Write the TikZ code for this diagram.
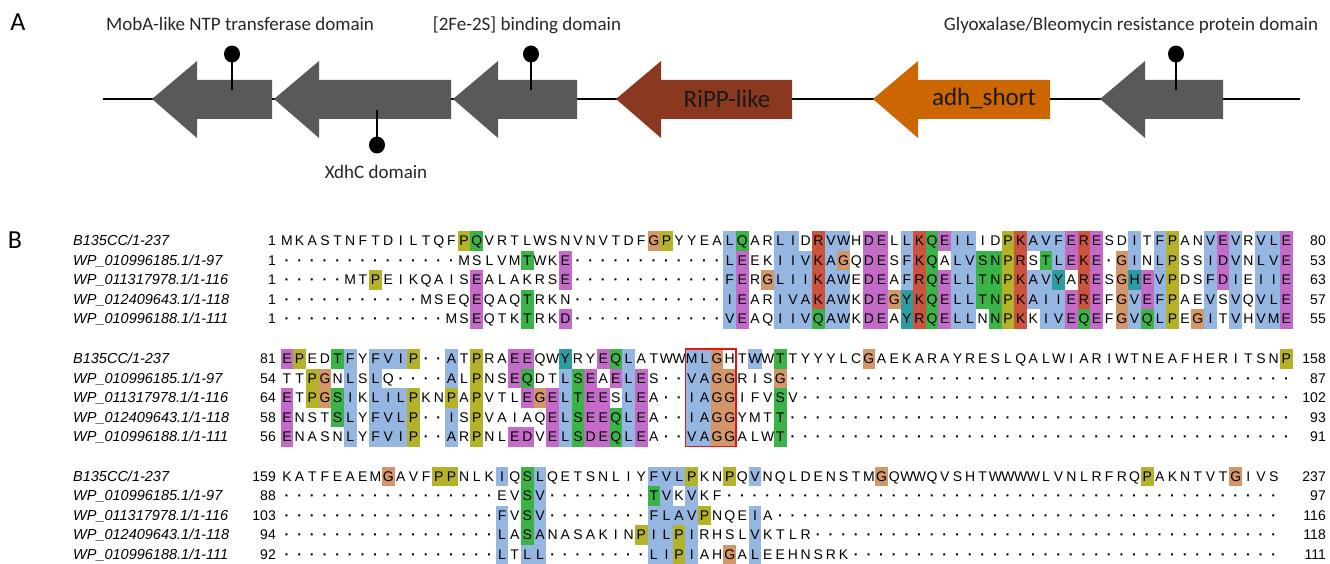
\documentclass[tikz,border=0pt]{standalone}
\usepackage{fontspec}
\setmainfont{Liberation Sans}
\newfontfamily\calib{Carlito}
\newfontfamily\arialf{Liberation Sans}
\usetikzlibrary{shapes.geometric}

\definecolor{clb}{RGB}{150,182,226}
\definecolor{clr}{RGB}{204,84,62}
\definecolor{clg}{RGB}{58,180,70}
\definecolor{clm}{RGB}{196,106,200}
\definecolor{clo}{RGB}{210,150,104}
\definecolor{cly}{RGB}{180,178,40}
\definecolor{clc}{RGB}{44,156,160}
\definecolor{genegray}{RGB}{89,89,89}
\definecolor{rippc}{RGB}{138,56,32}
\definecolor{adhc}{RGB}{204,102,0}
\definecolor{boxred}{RGB}{230,20,20}

\newcommand\resfont{\arialf\fontsize{14}{16}\selectfont}
\newcommand\lblfont{\arialf\itshape\fontsize{14.5}{16}\selectfont}
\newcommand\numfont{\arialf\fontsize{14}{16}\selectfont}
\newcommand\gapdot{{\bfseries\char"00B7\relax}}

\tikzset{
  res/.style={font=\resfont, inner sep=0pt, outer sep=0pt, minimum width=12.65pt, minimum height=19.5pt, text height=10pt, text depth=0pt},
  seqlbl/.style={font=\lblfont, inner sep=0pt, anchor=west, text height=10pt, text depth=0pt},
  numr/.style={font=\numfont, inner sep=0pt, anchor=east, text height=10pt, text depth=0pt},
  backbone/.style={line width=1.5pt, black},
  stem/.style={line width=1.5pt, black},
  ball/.style={ellipse, fill=black, inner sep=0pt, minimum width=16pt, minimum height=17pt},
  domlbl/.style={font=\calib\fontsize{19}{22}\selectfont, inner sep=0pt, anchor=base, text=black!85},
  genetxt/.style={font=\calib\fontsize{25}{28}\selectfont, inner sep=0pt, text=black!90},
  panel/.style={font=\calib\fontsize{26}{30}\selectfont, inner sep=0pt},
  hlbox/.style={draw=boxred, line width=1.6pt},
}

\newcommand\AlnCell[3]{%
  \pgfmathsetmacro\AlnX{287+(#1-1)*12.65}%
  \if\AlnRes-\def\AlnTxt{\gapdot}\else\let\AlnTxt\AlnRes\fi
  \if\AlnCol.%
    \node[res] (#3c#1) at (\AlnX,#2) {\AlnTxt};%
  \else
    \edef\AlnFill{cl\AlnCol}%
    \node[res,fill=\AlnFill] (#3c#1) at (\AlnX,#2) {\AlnTxt};%
  \fi
}

\ExplSyntaxOn
\str_new:N \l__aln_res_str
\str_new:N \l__aln_col_str
\cs_new:Npn \Gp #1 { \prg_replicate:nn {#1} {-} }
\cs_new:Npn \Nc #1 { \prg_replicate:nn {#1} {.} }
\cs_new_protected:Npn \__aln_row:nnnn #1#2#3#4
 {
  \str_set:Nx \l__aln_res_str {#3}
  \str_remove_all:Nn \l__aln_res_str {~}
  \str_set:Nx \l__aln_col_str {#4}
  \str_remove_all:Nn \l__aln_col_str {~}
  \int_step_inline:nn { \str_count:N \l__aln_res_str }
   {
    \tl_set:Nx \AlnRes { \str_item:Nn \l__aln_res_str {##1} }
    \tl_set:Nx \AlnCol { \str_item:Nn \l__aln_col_str {##1} }
    \tl_if_empty:NT \AlnCol { \tl_set:Nn \AlnCol {.} }
    \AlnCell {##1} {#1} {#2}
   }
 }
\NewDocumentCommand \AlnRow { m m m m } { \__aln_row:nnnn {#1} {#2} {#3} {#4} }
\ExplSyntaxOff

\newcommand\gene[4]{%
  \coordinate (#1tip) at (#2,99);
  \coordinate (#1end) at (#3,99);
  \fill[#4] (#1tip) -- (#2+45,61) -- (#2+45,80) -- (#3,80) -- (#3,119) -- (#2+45,119) -- (#2+45,138) -- cycle;
}

\begin{document}
\begin{tikzpicture}[x=1pt,y=-1pt]
\useasboundingbox (0,0) rectangle (1330,564);

% ---------------- Panel A ----------------
\node[panel] (pA) at (18,22) {A};
\coordinate (bbL) at (103,99);
\coordinate (bbR) at (1300,99);
\draw[backbone] (bbL) -- (bbR);

\gene{g1}{152}{272}{genegray}
\gene{g2}{274}{451}{genegray}
\gene{g3}{453}{577}{genegray}
\gene{g4}{616}{792}{rippc}
\gene{g5}{873}{1050}{adhc}
\gene{g6}{1100}{1223}{genegray}

\node[genetxt] (ripptxt) at (727,99) {RiPP-like};
\node[genetxt] (adhtxt) at (984,99) {adh\_short};

% lollipops
\node[ball] (l1) at (232,54) {};
\coordinate (s1) at (232,90);
\draw[stem] (s1) -- (l1.center);
\node[ball] (l2) at (377,145) {};
\coordinate (s2) at (377,110);
\draw[stem] (s2) -- (l2.center);
\node[ball] (l3) at (531,54) {};
\coordinate (s3) at (531,90);
\draw[stem] (s3) -- (l3.center);
\node[ball] (l6) at (1176,54) {};
\coordinate (s6) at (1176,90);
\draw[stem] (s6) -- (l6.center);

\node[domlbl] (d1) at (240,31) {MobA-like NTP transferase domain};
\node[domlbl] (d3) at (527,31) {[2Fe-2S] binding domain};
\node[domlbl] (d6) at (1131,31) {Glyoxalase/Bleomycin resistance protein domain};
\node[domlbl] (d2) at (376,179) {XdhC domain};

% ---------------- Panel B ----------------
\node[panel] (pB) at (15,240) {B};

% Block 1
\AlnRow{240.75}{b1r1}{MKASTNFTDI LTQFPQVRTL WSNVNVTDFG PYYEALQARL IDRVWHDELL KQEILIDPKA VFERESDITF PANVEVRVLE}
 {.......... ....yg.... .........o y....bg..b b.rbb.mm.b rgmbb..yrb bbmrm..b.b y..bmb.bbm}
\AlnRow{260.25}{b1r2}{---------- ----MSLVMT WKE------- -----LEEKI IVKAGQDESF KQALVSNPRS TLEKE-GINL PSSIDVNLVE}
 {.......... .........g ..m....... .....bm..b bbrbo.mm.b rg.bbggyr. gbmrm.ob.b y..bmb.bbm}
\AlnRow{279.75}{b1r3}{-----MTPEI KQAISEALAK RSE------- -----FERGL IIKAWEDEAF RQELLTNPKA VYARESGHEV PDSFDIEIIE}
 {.......y.. .....m.... ..m....... .....bm.ob bbrbb.mm.b rgmbbggyrb bc.rm.ocmb y..bmb.bbm}
\AlnRow{299.25}{b1r4}{---------- -MSEQEQAQT RKN------- -----IEARI VAKAWKDEGY KQELLTNPKA IIEREFGVEF PAEVSVQVLE}
 {.......... .....m...g .......... .....bm..b bbrbb.mmoc rgmbbggyrb bbmrm.obmb y..b.b.bbm}
\AlnRow{318.75}{b1r5}{---------- ---MSEQTKT RKD------- -----VEAQI IVQAWKDEAY RQELLNNPKK IVEQEFGVQL PEGITVHVME}
 {.......... .....m...g ..m....... .....bm..b bbgbb.mm.c rgmbb.gyr. bbmgm.obgb y.ob.b.bbm}

% Block 2
\AlnRow{358.75}{b2r1}{EPEDTFYFVI P--ATPRAEE QWYRYEQLAT WWMLGHTWWT TYYYLCGAEK ARAYRESLQA LWIARIWTNE AFHERITSNP}
 {my..gb.bbb y..b.y..mm ..c..mgb.. ..bbo..b.g ......o... .......... .......... .........y}
\AlnRow{378.25}{b2r2}{TTPGNLSLQ- ---ALPNSEQ DTLSEAELES --VAGGRISG \Gp{40}}
 {..yo.b.b.. ...b.y..mg ..bgm.mbm. ..bboo...o \Nc{40}}
\AlnRow{397.75}{b2r3}{ETPGSIKLIL PKNPAPVTLE GELTEESLEA --IAGGIFVS V\Gp{39}}
 {m.yogb.bbb y..y.y...m ombgmm.bm. ..bboo...g \Nc{40}}
\AlnRow{417.25}{b2r4}{ENSTSLYFVL P--ISPVAIA QELSEEQLEA --IAGGYMTT \Gp{40}}
 {m...gb.bbb y..b.y.... .mbgmmgbm. ..bboo...g \Nc{40}}
\AlnRow{436.75}{b2r5}{ENASNLYFVI P--ARPNLED VELSDEQLEA --VAGGALWT \Gp{40}}
 {m....b.bbb y..b.y..mm .mbgmmgbm. ..bboo...g \Nc{40}}
\draw[hlbox] (b2r1c33.north west) rectangle (b2r5c36.south east);

% Block 3
\AlnRow{476.25}{b3r1}{KATFEAEMGA VFPPNLKIQS LQETSNLIYF VLPKNPQVNQ LDENSTMGQW WQVSHTWWWW LVNLRFRQPA KNTVTGIVS}
 {........o. ..yy...b.g b........b bby..y.b.. .......o.. .......... ........y. .....o...}
\AlnRow{495.75}{b3r2}{\Gp{17}EVSV\Gp{8}TVKVKF\Gp{44}}
 {.......... .........g b........g b.b....... \Nc{39}}
\AlnRow{515.25}{b3r3}{\Gp{17}FVSV\Gp{8}FLAVPNQEIA\Gp{40}}
 {.......... .......b.g b........b bbby...b.. \Nc{39}}
\AlnRow{534.75}{b3r4}{\Gp{17}LASANASAKINPILPIRHSLVKTLR\Gp{37}}
 {.......... .......b.g b.......yb byb....b.. \Nc{39}}
\AlnRow{554.25}{b3r5}{\Gp{17}LTLL\Gp{8}LIPIAHGALEEHNSRK\Gp{34}}
 {.......... .......b.b b........b byb..o.b.. \Nc{39}}

% labels and numbers
\foreach \blk/\yy/\sa/\sb/\sc/\sd/\se/\ea/\eb/\ec/\ed/\ee in {
   1/240.75/1/1/1/1/1/80/53/63/57/55,
   2/358.75/81/54/64/58/56/158/87/102/93/91,
   3/476.25/159/88/103/94/92/237/97/116/118/111}{
  \node[seqlbl] (n\blk a) at (73,\yy) {B135CC/1-237};
  \node[seqlbl] (n\blk b) at (73,\yy+19.5) {WP\_010996185.1/1-97};
  \node[seqlbl] (n\blk c) at (73,\yy+39) {WP\_011317978.1/1-116};
  \node[seqlbl] (n\blk d) at (73,\yy+58.5) {WP\_012409643.1/1-118};
  \node[seqlbl] (n\blk e) at (73,\yy+78) {WP\_010996188.1/1-111};
  \node[numr] (s\blk a) at (276,\yy) {\sa};
  \node[numr] (s\blk b) at (276,\yy+19.5) {\sb};
  \node[numr] (s\blk c) at (276,\yy+39) {\sc};
  \node[numr] (s\blk d) at (276,\yy+58.5) {\sd};
  \node[numr] (s\blk e) at (276,\yy+78) {\se};
  \node[numr] (e\blk a) at (1326,\yy) {\ea};
  \node[numr] (e\blk b) at (1326,\yy+19.5) {\eb};
  \node[numr] (e\blk c) at (1326,\yy+39) {\ec};
  \node[numr] (e\blk d) at (1326,\yy+58.5) {\ed};
  \node[numr] (e\blk e) at (1326,\yy+78) {\ee};
}
\end{tikzpicture}
\end{document}
